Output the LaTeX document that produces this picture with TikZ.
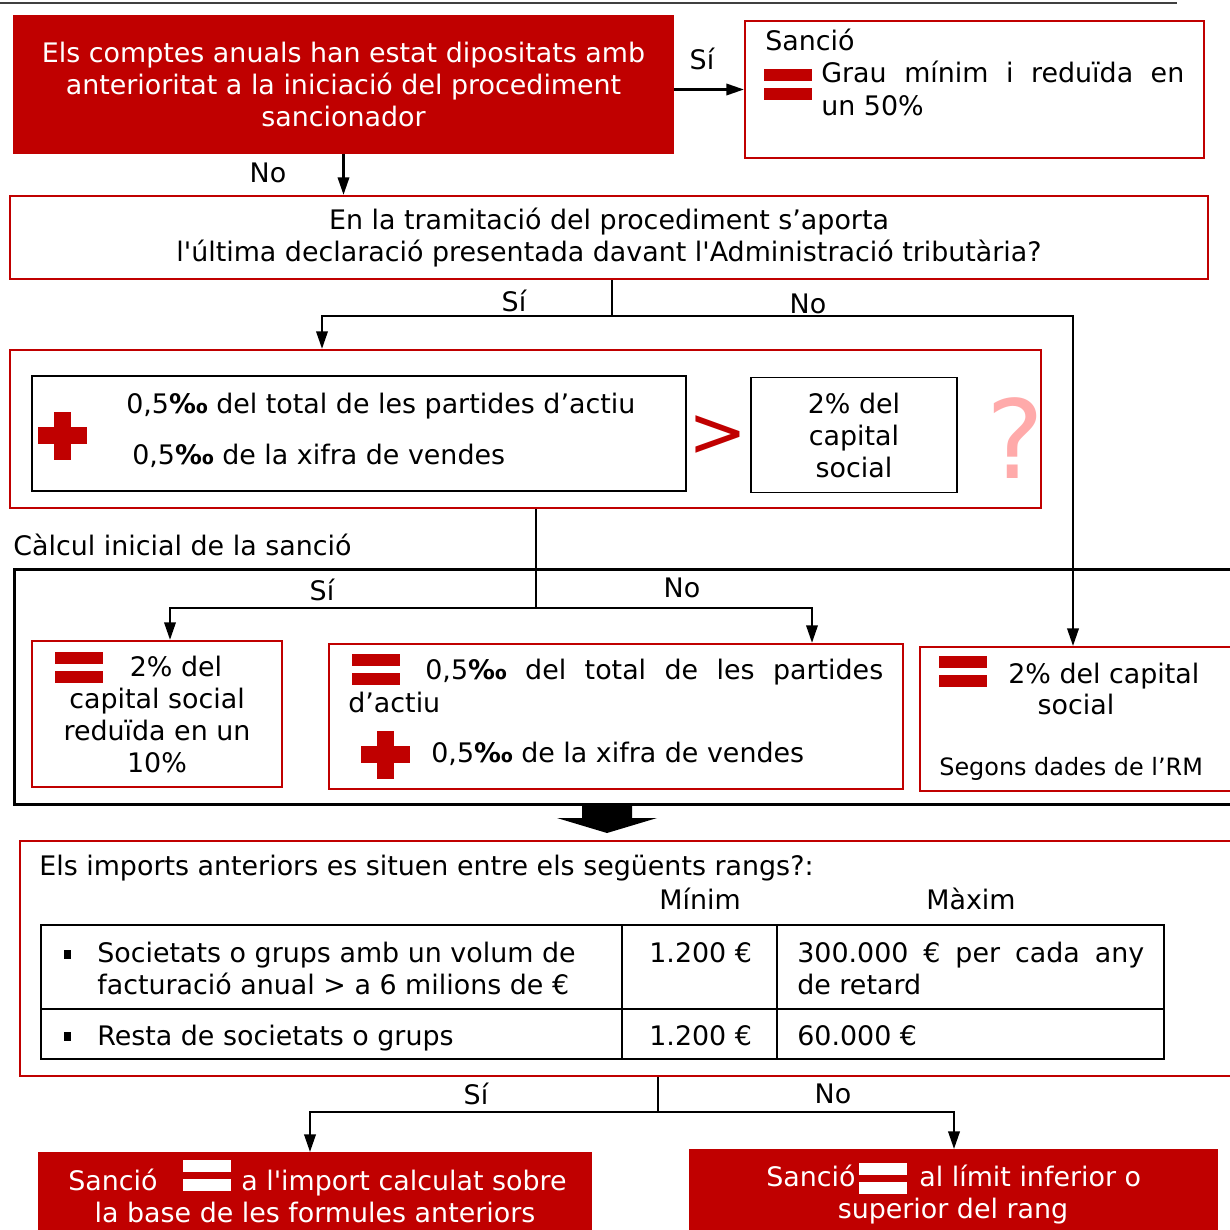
\documentclass[tikz,border=0pt]{standalone}
\usepackage{fontspec}
\newfontfamily\dv{DejaVu Sans}
\usetikzlibrary{arrows.meta}
\definecolor{myred}{RGB}{192,0,0}
\definecolor{qpink}{RGB}{255,170,170}
\definecolor{topgray}{RGB}{64,64,64}
\newcommand\eqicon[3]{%
  \fill[#3] (#1,#2) rectangle ++(48,12);
  \fill[#3] (#1,#2+19) rectangle ++(48,12);}
\newcommand\plusicon[2]{%
  \fill[myred] (#1+16,#2) rectangle ++(17,48);
  \fill[myred] (#1,#2+15) rectangle ++(49,17);}
\newcommand\bulletsq[2]{%
  \fill (#1-3.5,#2-4.5) rectangle ++(7,9);}
\tikzset{
  redfill/.style={fill=myred, draw=none, text=white, inner sep=0pt},
  redbox/.style={draw=myred, line width=1.3pt, fill=white, inner sep=0pt},
  blkbox/.style={draw=black, line width=1.1pt, inner sep=0pt},
  txt/.style={inner sep=0pt},
  wtxt/.style={inner sep=0pt, text=white},
  arr/.style={line width=1.3pt, -{Triangle[length=10pt,width=6.5pt]}},
  stub/.style={line width=0.6pt},
}
\begin{document}
\begin{tikzpicture}[x=0.02cm, y=-0.02cm, font={\dv\fontsize{15.3}{18.2}\selectfont}]
\useasboundingbox (0,0) rectangle (1230,1230);
\draw[topgray, line width=1.1pt] (0,3) -- (1177,3);

% ---------- top decision ----------
\node[redfill, minimum width=13.22cm, minimum height=2.78cm, align=center] (A) at (343.5,84.5)
  {Els comptes anuals han estat dipositats amb\\anterioritat a la iniciació del procediment\\sancionador};
\node[redbox, minimum width=9.18cm, minimum height=2.74cm] (B) at (974.5,89.5) {};
\node[txt, anchor=base west] at (765,51) {Sanció};
\eqicon{764}{69}{myred}
\node[txt, anchor=base west] at (821,83) {\makebox[7.26cm][s]{Grau mínim i reduïda en}};
\node[txt, anchor=base west] at (821,115) {un 50\%};

\node[redbox, minimum width=23.96cm, minimum height=1.66cm, align=center] (C) at (609,237.5)
  {En la tramitació del procediment s’aporta\\l'última declaració presentada davant l'Administració tributària?};

% ---------- comparison box ----------
\node[redbox, minimum width=20.62cm, minimum height=3.16cm] (D) at (525.5,429) {};
\node[blkbox, minimum width=13.08cm, minimum height=2.3cm] (D1) at (359,433.5) {};
\plusicon{38}{412}
\node[txt, anchor=base west] at (126,413) {0,5{\bfseries ‰} del total de les partides d’actiu};
\node[txt, anchor=base west] at (132,464) {0,5{\bfseries ‰} de la xifra de vendes};
\node[txt, text=myred, font={\dv\fontsize{40}{40}\selectfont}] (gt) at (718,436) {>};
\node[blkbox, minimum width=4.12cm, minimum height=2.3cm, align=center] (D2) at (854,435) {2\% del\\capital\\social};
\node[txt, text=qpink, font={\dv\fontsize{62}{62}\selectfont}] (q) at (1015,438) {?};

% ---------- initial calculation ----------
\node[txt, anchor=base west] at (13,555) {Càlcul inicial de la sanció};
\node[draw=black, line width=1.7pt, inner sep=0pt, minimum width=24.6cm, minimum height=4.7cm, anchor=north west] (E) at (13,568) {};

\node[redbox, minimum width=5cm, minimum height=2.92cm] (E1) at (157,714) {};
\eqicon{55}{652}{myred}
\node[txt, anchor=base] at (176,676) {2\% del};
\node[txt, anchor=base] at (157,708) {capital social};
\node[txt, anchor=base] at (157,740) {reduïda en un};
\node[txt, anchor=base] at (157,772) {10\%};

\node[redbox, minimum width=11.48cm, minimum height=2.9cm] (E2) at (616,716.5) {};
\eqicon{352}{654}{myred}
\node[txt, anchor=base west] at (425,679) {\makebox[9.16cm][s]{0,5{\bfseries ‰} del total de les partides}};
\node[txt, anchor=base west] at (348,712) {d’actiu};
\plusicon{361}{731}
\node[txt, anchor=base west] at (431,762) {0,5{\bfseries ‰} de la xifra de vendes};

\node[redbox, minimum width=6.5cm, minimum height=2.88cm, anchor=north west] (E3) at (919,646) {};
\eqicon{939}{656}{myred}
\node[txt, anchor=base west] at (1008,683) {2\% del capital};
\node[txt, anchor=base] at (1076,714) {social};
\node[txt, anchor=base west, font={\dv\fontsize{13.6}{16}\selectfont}] at (939,775) {Segons dades de l’RM};

% big arrow
\fill (582,803) -- (632,803) -- (632,818) -- (657,818) -- (607,833) -- (557,818) -- (582,818) -- cycle;

% ---------- ranges ----------
\node[redbox, minimum width=24.5cm, minimum height=4.7cm, anchor=north west] (F) at (19,840) {};
\node[txt, anchor=base west] at (39,875) {Els imports anteriors es situen entre els següents rangs?:};
\node[txt, anchor=base] at (700,909) {Mínim};
\node[txt, anchor=base] at (971,909) {Màxim};
\draw[line width=1.2pt] (41,925) rectangle (1164,1059);
\draw[line width=1.2pt] (41,1009) -- (1164,1009);
\draw[line width=1.2pt] (622,925) -- (622,1059);
\draw[line width=1.2pt] (777,925) -- (777,1059);
\bulletsq{67}{954}
\node[txt, anchor=base west] at (97,962) {Societats o grups amb un volum de};
\node[txt, anchor=base west] at (97,994) {facturació anual > a 6 milions de €};
\node[txt, anchor=base west] at (649,962) {1.200 €};
\node[txt, anchor=base west] at (797,962) {\makebox[6.94cm][s]{300.000 € per cada any}};
\node[txt, anchor=base west] at (797,994) {de retard};
\bulletsq{67}{1036}
\node[txt, anchor=base west] at (97,1045) {Resta de societats o grups};
\node[txt, anchor=base west] at (649,1045) {1.200 €};
\node[txt, anchor=base west] at (797,1045) {60.000 €};

% ---------- results ----------
\node[redfill, minimum width=11.08cm, minimum height=2cm, anchor=north west] (G1) at (38,1152) {};
\node[wtxt, anchor=base west] at (68,1190) {Sanció};
\eqicon{183}{1160}{white}
\node[wtxt, anchor=base west] at (241,1190) {a l'import calculat sobre};
\node[wtxt, anchor=base] at (315,1222) {la base de les formules anteriors};

\node[redfill, minimum width=10.58cm, minimum height=2cm, anchor=north west] (G2) at (689,1149) {};
\node[wtxt, anchor=base west] at (766,1186) {Sanció};
\eqicon{859}{1163}{white}
\node[wtxt, anchor=base west] at (919,1186) {al límit inferior o};
\node[wtxt, anchor=base] at (953,1218) {superior del rang};

% ---------- connectors ----------
\draw[arr] (A.east |- B.west) -- (B.west);
\node[txt] at (702,59) {Sí};
\draw[arr] (A.south) -- (A.south |- C.north);
\node[txt] at (268,173) {No};

\coordinate (j1) at (612,316);
\coordinate (dL) at (322,316);
\coordinate (dR) at (1073,316);
\draw[stub] (C.south -| j1) -- (j1);
\draw[arr] (j1) -- (dL) -- (D.north -| dL);
\draw[arr] (j1) -- (dR) -- (E3.north -| dR);
\node[txt] at (514,301) {Sí};
\node[txt] at (808,304) {No};

\coordinate (j2) at (536,608);
\coordinate (eL) at (170,608);
\coordinate (eR) at (812,608);
\draw[stub] (D.south -| j2) -- (j2);
\draw[arr] (j2) -- (eL) -- (E1.north -| eL);
\draw[arr] (j2) -- (eR) -- (E2.north -| eR);
\node[txt] at (322,590) {Sí};
\node[txt] at (682,588) {No};

\coordinate (j3) at (658,1112);
\coordinate (gL) at (310,1112);
\coordinate (gR) at (954,1112);
\draw[stub] (F.south -| j3) -- (j3);
\draw[arr] (j3) -- (gL) -- (G1.north -| gL);
\draw[arr] (j3) -- (gR) -- (G2.north -| gR);
\node[txt] at (476,1094) {Sí};
\node[txt] at (833,1094) {No};
\end{tikzpicture}
\end{document}
